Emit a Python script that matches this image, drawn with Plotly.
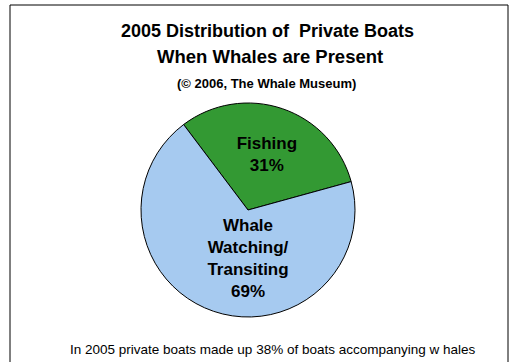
import plotly.graph_objects as go

categories = ["Fishing", "Whale<br>Watching/<br>Transiting"]
values = [31, 69]
colors = ["#339933", "#A6CAF0"]

W, H = 511, 362
FONT = "Arial, Liberation Sans, sans-serif"

def px_x(x):
    return x / W

def px_y(y):
    return 1 - y / H

cx, cy, r = 248, 210, 107

fig = go.Figure(go.Pie(
    labels=categories,
    values=values,
    sort=False,
    direction="clockwise",
    rotation=-37,
    marker=dict(colors=colors, line=dict(color="black", width=1)),
    texttemplate="%{label}<br>%{percent:.0%}",
    textposition="inside",
    insidetextorientation="horizontal",
    textfont=dict(family=FONT, size=17, color="black", weight="bold"),
    hoverinfo="label+percent",
    showlegend=False,
    domain=dict(x=[px_x(cx - r), px_x(cx + r)], y=[px_y(cy + r), px_y(cy - r)]),
))

fig.add_shape(type="rect", xref="paper", yref="paper",
              x0=px_x(10), x1=px_x(508), y0=px_y(380), y1=px_y(5),
              line=dict(color="black", width=1), fillcolor="rgba(0,0,0,0)")

fig.add_annotation(x=px_x(267), y=px_y(31), xref="paper", yref="paper",
                   text="<b>2005 Distribution of  Private Boats</b>", showarrow=False,
                   font=dict(family=FONT, size=18, color="black"), xanchor="center", yanchor="middle")
fig.add_annotation(x=px_x(270), y=px_y(57), xref="paper", yref="paper",
                   text="<b>When Whales are Present</b>", showarrow=False,
                   font=dict(family=FONT, size=18.5, color="black"), xanchor="center", yanchor="middle")
fig.add_annotation(x=px_x(266), y=px_y(83), xref="paper", yref="paper",
                   text="<b>(© 2006, The Whale Museum)</b>", showarrow=False,
                   font=dict(family=FONT, size=13, color="black"), xanchor="center", yanchor="middle")
fig.add_annotation(x=px_x(273), y=px_y(349), xref="paper", yref="paper",
                   text="In 2005 private boats made up 38% of boats accompanying w hales", showarrow=False,
                   font=dict(family=FONT, size=13.5, color="black"), xanchor="center", yanchor="middle")

fig.update_layout(width=W, height=H, margin=dict(l=0, r=0, t=0, b=0),
                  paper_bgcolor="white", plot_bgcolor="white")

fig.write_html("out.html", config={"displayModeBar": False},
               post_script="document.body.style.margin='0px';")
